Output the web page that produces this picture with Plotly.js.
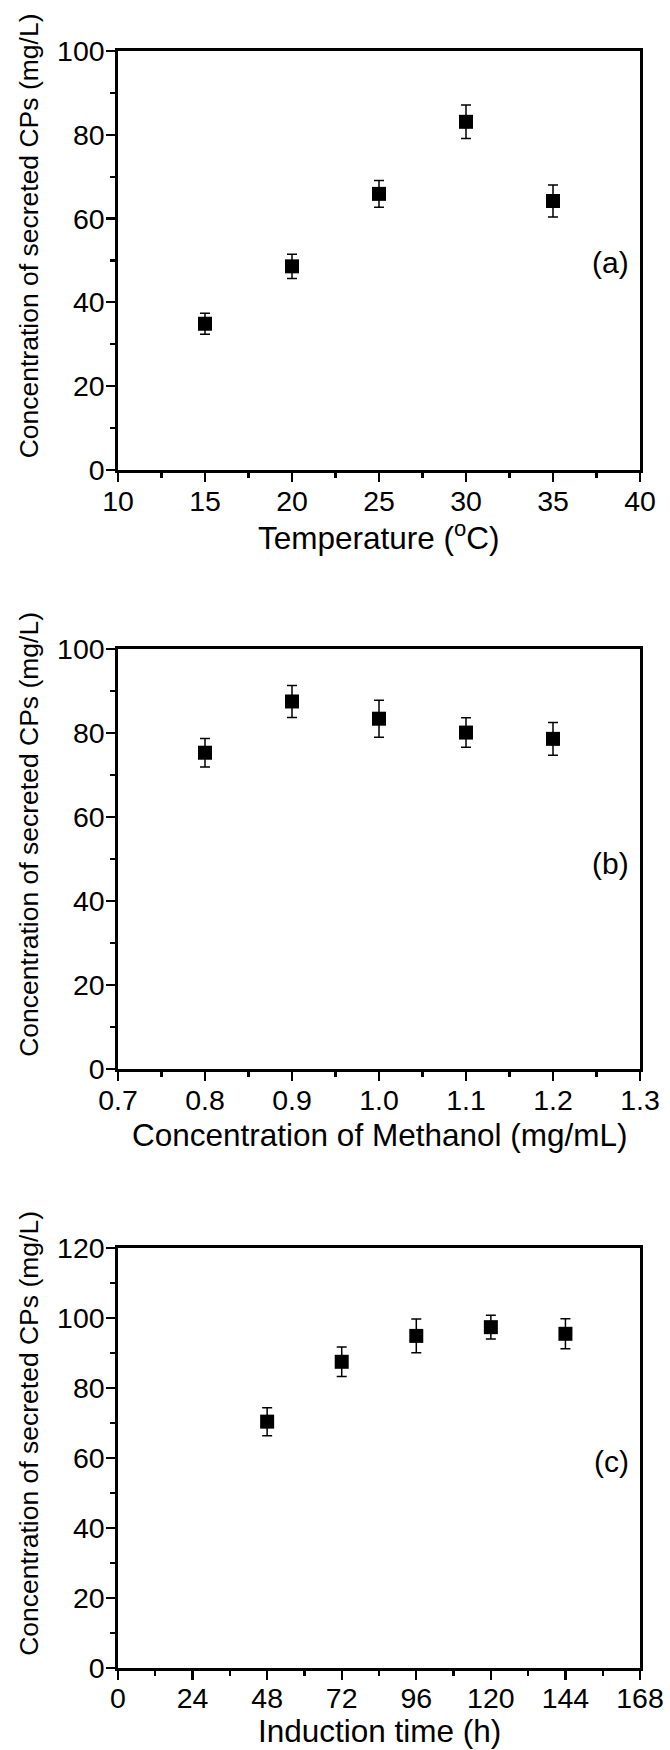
<!DOCTYPE html>
<html>
<head>
<meta charset="utf-8">
<script src="https://cdn.plot.ly/plotly-3.0.1.min.js"></script>
<style>html,body{margin:0;padding:0;background:#fff;}#chart{width:670px;height:1750px;}</style>
</head>
<body>
<div id="chart"></div>
<script>
// Panel (a): temperature
const tempX = [15, 20, 25, 30, 35];
const tempY = [34.9, 48.6, 65.9, 83.1, 64.2];
const tempErr = [2.5, 2.9, 3.2, 4.0, 3.8];

// Panel (b): methanol concentration
const methX = [0.8, 0.9, 1.0, 1.1, 1.2];
const methY = [75.3, 87.5, 83.4, 80.1, 78.6];
const methErr = [3.4, 3.8, 4.4, 3.5, 3.9];

// Panel (c): induction time
const timeX = [48, 72, 96, 120, 144];
const timeY = [70.4, 87.5, 94.9, 97.4, 95.5];
const timeErr = [4.0, 4.2, 4.8, 3.4, 4.3];

const yTitle = 'Concentration of secreted CPs (mg/L)';
const xTitles = ['Temperature (<sup>o</sup>C)', 'Concentration of Methanol (mg/mL)', 'Induction time (h)'];
const panelLabels = ['(a)', '(b)', '(c)'];
const panelLabelY = [49.5, 49, 59];

const FONT = 'Liberation Sans, Arial, Helvetica, sans-serif';
const TICKFONT = {family: FONT, size: 28.5, color: '#000'};

function trace(x, y, e, ax) {
  return {
    type: 'scatter', mode: 'markers', x: x, y: y,
    xaxis: 'x' + ax, yaxis: 'y' + ax,
    marker: {symbol: 'square', size: 14, color: '#000'},
    error_y: {type: 'data', array: e, visible: true, color: '#000', thickness: 1.5, width: 5},
    showlegend: false, hoverinfo: 'x+y'
  };
}

function common() {
  return {
    showgrid: false, zeroline: false,
    showline: true, linewidth: 2.7, linecolor: '#000', mirror: true,
    ticks: 'outside', ticklen: 9, tickwidth: 2.2, tickcolor: '#000',
    tickfont: TICKFONT
  };
}
function xax(range, dtick, minor, fmt, anchor, standoff) {
  return Object.assign(common(), {
    range: range, dtick: dtick, tick0: range[0], tickformat: fmt,
    minor: {ticks: 'outside', ticklen: 5, tickwidth: 2.2, tickcolor: '#000', dtick: minor},
    ticklabelstandoff: standoff,
    anchor: anchor, domain: [0, 1]
  });
}
function yax(range, anchor, domain) {
  return Object.assign(common(), {
    range: range, dtick: 20, tick0: 0,
    minor: {ticks: 'outside', ticklen: 5, tickwidth: 2.2, tickcolor: '#000', dtick: 10},
    ticklabelstandoff: -4,
    anchor: anchor, domain: domain
  });
}

const data = [
  trace(tempX, tempY, tempErr, ''),
  trace(methX, methY, methErr, '2'),
  trace(timeX, timeY, timeErr, '3')
];

const axSuffix = ['', '2', '3'];
const annotations = [];
axSuffix.forEach((s, i) => {
  // panel label
  annotations.push({
    text: panelLabels[i], showarrow: false,
    xref: 'x' + s + ' domain', x: 0.983, xanchor: 'right',
    yref: 'y' + s, y: panelLabelY[i], yanchor: 'middle',
    font: {family: FONT, size: 30, color: '#000'}
  });
  // x-axis title
  const xt = {
    text: xTitles[i], showarrow: false, borderpad: 0,
    xref: 'x' + s + ' domain', x: 0.5, xanchor: 'center',
    font: {family: FONT, size: 31.5, color: '#000'}
  };
  if (i < 2) {
    Object.assign(xt, {yref: 'y' + s + ' domain', y: -0.158, yanchor: 'middle'});
  } else {
    Object.assign(xt, {yref: 'paper', y: -82 / 1617, yanchor: 'bottom'});
  }
  annotations.push(xt);
  // y-axis title
  annotations.push({
    text: yTitle, showarrow: false, textangle: -90,
    xref: 'x' + s + ' domain', x: -0.1705, xanchor: 'center',
    yref: 'y' + s + ' domain', y: 0.56, yanchor: 'middle',
    font: {family: FONT, size: 26.5, color: '#000'}
  });
});

const layout = {
  width: 670, height: 1750,
  margin: {l: 118, r: 30, t: 51, b: 82},
  paper_bgcolor: '#fff', plot_bgcolor: '#fff',
  xaxis: xax([10, 40], 5, 2.5, '', 'y', -5),
  yaxis: yax([0, 100], 'x', [0.7409, 1.0]),
  xaxis2: xax([0.7, 1.3], 0.1, 0.05, '.1f', 'y2', -5),
  yaxis2: yax([0, 100], 'x2', [0.3704, 0.6302]),
  xaxis3: xax([0, 168], 24, 12, '', 'y3', -6),
  yaxis3: yax([0, 120], 'x3', [0, 0.2597]),
  annotations: annotations
};

Plotly.newPlot('chart', data, layout, {displayModeBar: false, staticPlot: true});
</script>
</body>
</html>
